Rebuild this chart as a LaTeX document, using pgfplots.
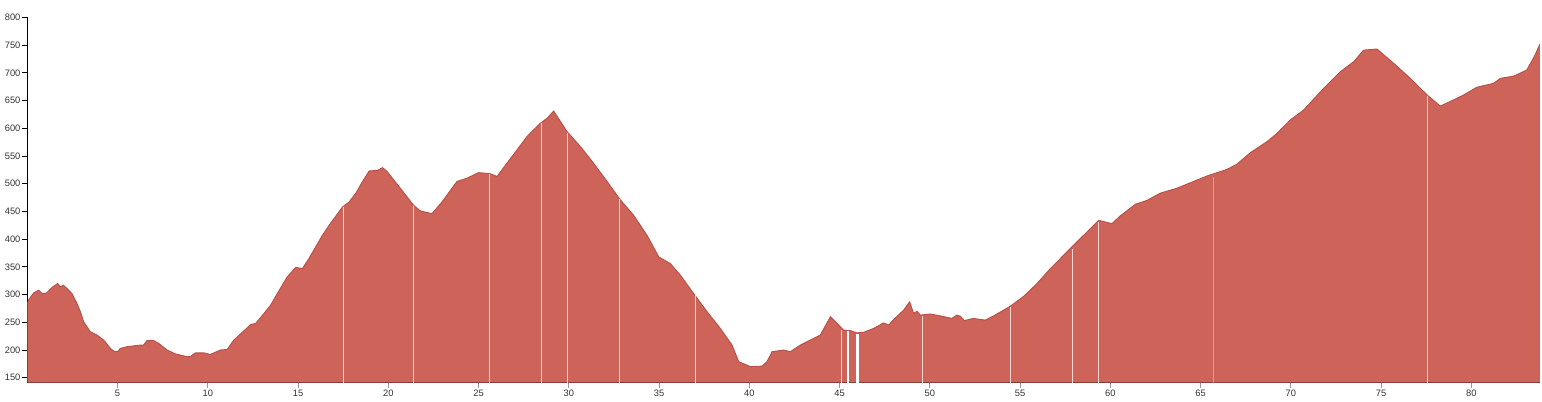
\documentclass[border=0pt]{standalone}
\usepackage{pgfplots}
\pgfplotsset{compat=1.18}
\usepackage{fontspec}
\setmainfont{Liberation Sans}
\definecolor{profill}{RGB}{205,99,89}
\definecolor{proline}{RGB}{185,80,72}
\begin{document}
\begin{tikzpicture}
\useasboundingbox (0,0) rectangle (1156.5pt,300.75pt);
\begin{axis}[
  at={(20.5pt,13.7pt)}, anchor=south west,
  scale only axis, width=1134.5pt, height=274pt,
  xmin=0, xmax=83.8, ymin=141, ymax=800,
  axis x line=bottom, axis y line=left,
  axis line style={-, black, line width=0.8pt},
  xtick={5,10,...,80}, ytick={150,200,...,800},
  tick align=outside, major tick length=4pt,
  tick style={black, line width=0.6pt},
  xtick style={black!40},
  /pgf/number format/assume math mode=true,
  ticklabel style={font=\fontsize{7}{8}\selectfont, text=black!80},
  yticklabel style={inner sep=1pt},
  xticklabel style={inner sep=1.5pt},
  clip=true,
]
\addplot[fill=profill, draw=none] coordinates {
(0,284) (0.1,292) (0.35,303) (0.63,308) (0.81,302) (1.07,303) (1.37,313) (1.68,320) (1.83,314) (2.0,317) (2.19,311) (2.47,302) (2.75,284) (2.94,269) (3.12,251) (3.49,233) (3.86,227) (4.23,218) (4.6,203) (4.79,198) (5.0,197) (5.15,203) (5.52,206) (6.26,209) (6.44,209) (6.63,217) (7.0,217) (7.28,212) (7.74,200) (8.2,193) (8.85,188) (9.03,188) (9.31,195) (9.77,195) (10.14,192) (10.7,200) (11.07,201) (11.44,218) (12.18,240) (12.37,246) (12.65,248) (13.11,266) (13.48,281) (13.85,302) (14.4,332) (14.87,349) (15.24,347) (15.6,365) (16.35,407) (16.72,425) (17.46,458) (17.83,467) (18.2,483) (18.57,504) (18.94,523) (19.4,524) (19.68,529) (19.93,522) (20.66,492) (21.4,461) (21.77,451) (22.42,446) (22.97,467) (23.8,504) (24.36,510) (25.0,520) (25.65,518) (26.02,513) (26.57,537) (27.13,561) (27.68,585) (28.42,609) (28.79,618) (29.16,631) (29.9,594) (30.64,567) (31.37,537) (32.12,504) (32.85,471) (33.59,443) (34.33,407) (34.98,368) (35.62,356) (36.18,335) (36.91,302) (37.66,269) (38.39,239) (39.04,209) (39.41,179) (40.06,170) (40.7,171) (40.98,179) (41.26,197) (41.9,200) (42.27,197) (42.83,209) (43.56,221) (43.93,227) (44.49,260) (44.86,248) (45.22,236) (45.6,235) (45.96,231) (46.33,232) (46.89,239) (47.44,249) (47.72,245) (48.0,255) (48.55,272) (48.88,287) (49.1,266) (49.29,270) (49.47,263) (50.03,265) (50.67,261) (51.22,257) (51.5,263) (51.69,261) (51.9,253) (52.4,257) (53.07,254) (53.5,261) (54.46,279) (55.2,297) (55.94,320) (56.68,347) (57.78,383) (58.52,407) (59.35,434) (60.09,428) (60.55,442) (61.39,463) (62.03,470) (62.77,483) (63.7,492) (64.6,504) (65.36,514) (66.47,526) (67.0,535) (67.76,556) (68.68,576) (69.24,591) (69.97,615) (70.71,633) (71.82,672) (72.74,702) (73.48,720) (74.03,741) (74.77,743) (75.7,717) (76.62,690) (77.55,660) (78.28,640) (79.0,651) (79.57,660) (80.3,674) (81.23,681) (81.6,690) (82.34,694) (83.07,705) (83.53,732) (83.8,752)
} \closedcycle;
\addplot[draw=proline, line width=0.7pt] coordinates {
(0,284) (0.1,292) (0.35,303) (0.63,308) (0.81,302) (1.07,303) (1.37,313) (1.68,320) (1.83,314) (2.0,317) (2.19,311) (2.47,302) (2.75,284) (2.94,269) (3.12,251) (3.49,233) (3.86,227) (4.23,218) (4.6,203) (4.79,198) (5.0,197) (5.15,203) (5.52,206) (6.26,209) (6.44,209) (6.63,217) (7.0,217) (7.28,212) (7.74,200) (8.2,193) (8.85,188) (9.03,188) (9.31,195) (9.77,195) (10.14,192) (10.7,200) (11.07,201) (11.44,218) (12.18,240) (12.37,246) (12.65,248) (13.11,266) (13.48,281) (13.85,302) (14.4,332) (14.87,349) (15.24,347) (15.6,365) (16.35,407) (16.72,425) (17.46,458) (17.83,467) (18.2,483) (18.57,504) (18.94,523) (19.4,524) (19.68,529) (19.93,522) (20.66,492) (21.4,461) (21.77,451) (22.42,446) (22.97,467) (23.8,504) (24.36,510) (25.0,520) (25.65,518) (26.02,513) (26.57,537) (27.13,561) (27.68,585) (28.42,609) (28.79,618) (29.16,631) (29.9,594) (30.64,567) (31.37,537) (32.12,504) (32.85,471) (33.59,443) (34.33,407) (34.98,368) (35.62,356) (36.18,335) (36.91,302) (37.66,269) (38.39,239) (39.04,209) (39.41,179) (40.06,170) (40.7,171) (40.98,179) (41.26,197) (41.9,200) (42.27,197) (42.83,209) (43.56,221) (43.93,227) (44.49,260) (44.86,248) (45.22,236) (45.6,235) (45.96,231) (46.33,232) (46.89,239) (47.44,249) (47.72,245) (48.0,255) (48.55,272) (48.88,287) (49.1,266) (49.29,270) (49.47,263) (50.03,265) (50.67,261) (51.22,257) (51.5,263) (51.69,261) (51.9,253) (52.4,257) (53.07,254) (53.5,261) (54.46,279) (55.2,297) (55.94,320) (56.68,347) (57.78,383) (58.52,407) (59.35,434) (60.09,428) (60.55,442) (61.39,463) (62.03,470) (62.77,483) (63.7,492) (64.6,504) (65.36,514) (66.47,526) (67.0,535) (67.76,556) (68.68,576) (69.24,591) (69.97,615) (70.71,633) (71.82,672) (72.74,702) (73.48,720) (74.03,741) (74.77,743) (75.7,717) (76.62,690) (77.55,660) (78.28,640) (79.0,651) (79.57,660) (80.3,674) (81.23,681) (81.6,690) (82.34,694) (83.07,705) (83.53,732) (83.8,752)
};
% segment separators
\addplot[ycomb, draw=white, line width=0.7pt, opacity=0.75] coordinates {
(17.49,458) (21.4,460) (25.6,517) (28.48,609) (29.93,592) (32.78,473) (37.0,299) (45.13,236) (49.57,262) (54.46,277) (57.88,383) (59.35,431) (77.58,658)
};
\addplot[ycomb, draw=white, line width=0.7pt, opacity=0.35] coordinates {
(65.69,512)
};
\addplot[ycomb, draw=white, line width=1.8pt] coordinates {
(45.45,234) (46.0,229)
};
\end{axis}
\end{tikzpicture}
\end{document}
